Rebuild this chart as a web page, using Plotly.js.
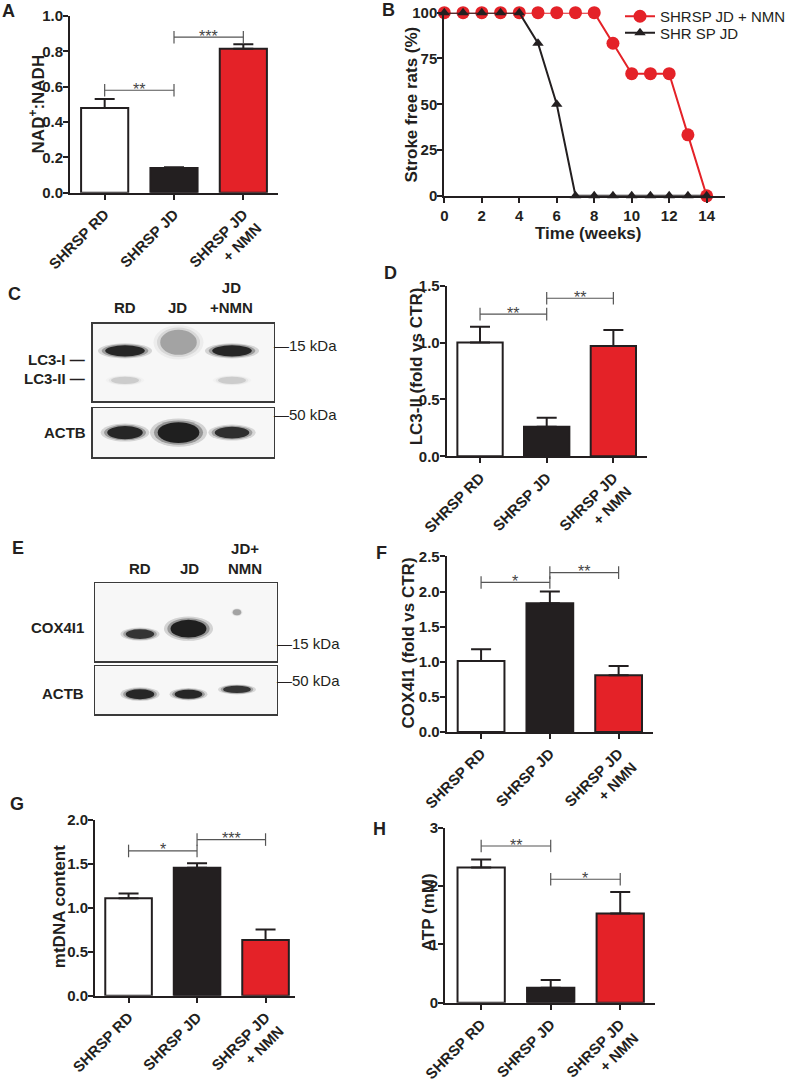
<!DOCTYPE html>
<html>
<head>
<meta charset="utf-8">
<script src="https://cdn.plot.ly/plotly-3.0.1.min.js"></script>
<style>
body { margin: 0; background: #fff; }
#plot { width: 800px; height: 1086px; }
</style>
</head>
<body>
<div id="plot"></div>
<script>
// groups shared by every bar panel
var groups = ['SHRSP RD', 'SHRSP JD', 'SHRSP JD<br>+ NMN'];
var groupColors = ['#ffffff', '#231f20', '#e42228'];

// A - NAD+:NADH
var nadRatio = [0.48, 0.14, 0.815];
var nadSem = [0.05, 0.005, 0.025];
var nadSig = [[0, 1, 0.58, '**'], [1, 2, 0.88, '***']];

// B - stroke free survival
var weeks = [0, 1, 2, 3, 4, 5, 6, 7, 8, 9, 10, 11, 12, 13, 14];
var strokeFreeNmn = [100, 100, 100, 100, 100, 100, 100, 100, 100, 83.3, 66.7, 66.7, 66.7, 33.3, 0];
var strokeFreeJd = [100, 100, 100, 100, 100, 83.3, 50, 0, 0, 0, 0, 0, 0, 0, 0];

// C - LC3 blot (relative band darkness per lane RD, JD, JD+NMN)
var blotLanesC = ['RD', 'JD', 'JD<br>+NMN'];
var lc3IBand = [0.95, 0.3, 0.95];
var lc3IIBand = [0.14, 0, 0.14];
var actbBandC = [0.95, 1, 0.9];

// D - LC3-II
var lc3Fold = [1.0, 0.26, 0.97];
var lc3Sem = [0.14, 0.08, 0.14];
var lc3Sig = [[0, 1, 1.25, '**'], [1, 2, 1.39, '**']];

// E - COX4I1 blot
var blotLanesE = ['RD', 'JD', 'JD+<br>NMN'];
var coxBand = [0.85, 1, 0.3];
var actbBandE = [0.95, 0.95, 0.85];

// F - COX4I1
var coxFold = [1.01, 1.835, 0.81];
var coxSem = [0.17, 0.165, 0.13];
var coxSig = [[0, 1, 2.13, '*'], [1, 2, 2.27, '**']];

// G - mtDNA
var mtdna = [1.11, 1.46, 0.635];
var mtdnaSem = [0.055, 0.05, 0.12];
var mtdnaSig = [[0, 1, 1.65, '*'], [1, 2, 1.78, '***']];

// H - ATP
var atp = [2.32, 0.26, 1.53];
var atpSem = [0.14, 0.13, 0.37];
var atpSig = [[0, 1, 2.69, '**'], [1, 2, 2.12, '*']];

var FONT = 'Liberation Sans, Arial, Helvetica, sans-serif';
var INK = '#231f20';
var W = 800, H = 1086;

function px(x) { return x / W; }
function py(y) { return 1 - y / H; }

var traces = [];
var shapes = [];
var annotations = [];

function barTrace(n, vals, sem) {
    return {
        type: 'bar', x: [0, 1, 2], y: vals,
        xaxis: 'x' + n, yaxis: 'y' + n,
        width: 0.68,
        marker: {color: groupColors, line: {color: INK, width: 2}},
        error_y: {type: 'data', symmetric: false, array: sem, arrayminus: [0, 0, 0],
                  color: INK, thickness: 2, width: 10},
        showlegend: false, hoverinfo: 'skip', cliponaxis: false
    };
}

function addSig(n, sig) {
    sig.forEach(function(s) {
        traces.push({
            type: 'scatter', mode: 'lines+markers', x: [s[0], s[1]], y: [s[2], s[2]],
            xaxis: 'x' + n, yaxis: 'y' + n,
            line: {color: '#555', width: 1.2},
            marker: {symbol: 'line-ns', size: 9, line: {color: '#555', width: 1.2}},
            showlegend: false, hoverinfo: 'skip', cliponaxis: false
        });
        annotations.push({
            xref: 'x' + n, yref: 'y' + n, x: (s[0] + s[1]) / 2, y: s[2],
            text: s[3], showarrow: false, xanchor: 'center', yanchor: 'middle', yshift: 1,
            font: {family: FONT, size: 16, color: '#444'}
        });
    });
}

function barX(left, right, range) {
    return {
        domain: [px(left), px(right)], range: range,
        tickvals: [0, 1, 2], ticktext: groups, tickangle: -45,
        ticks: 'outside', ticklen: 5, tickwidth: 2, tickcolor: INK,
        showline: true, linewidth: 2, linecolor: INK,
        showgrid: false, zeroline: false, fixedrange: true,
        tickfont: {family: FONT, size: 15, weight: 'bold', color: INK}
    };
}

function barY(bottom, top, range, dtick, fmt) {
    return {
        domain: [py(bottom), py(top)], range: range, dtick: dtick, tick0: 0,
        tickformat: fmt, ticks: 'outside', ticklen: 5, tickwidth: 2, tickcolor: INK,
        ticklabelstandoff: -3,
        showline: true, linewidth: 2, linecolor: INK,
        showgrid: false, zeroline: false, fixedrange: true,
        tickfont: {family: FONT, size: 15, weight: 'bold', color: INK}
    };
}

function blotAxis(domain, range) {
    return {
        domain: domain, range: range, showline: true, mirror: true,
        linewidth: 1.3, linecolor: '#3a3a3a', ticks: '', showticklabels: false,
        showgrid: false, zeroline: false, fixedrange: true
    };
}

// soft edged band built from stacked ellipses
function addBand(n, lane, cy, w, h, dark) {
    if (dark <= 0) return;
    var layers = [[1.3, 0.15], [1.12, 0.3], [0.95, 0.85]];
    layers.forEach(function(l) {
        shapes.push({
            type: 'circle', xref: 'x' + n, yref: 'y' + n,
            x0: lane - w * l[0] / 2, x1: lane + w * l[0] / 2,
            y0: cy - h * l[0] / 2, y1: cy + h * l[0] / 2,
            fillcolor: '#0a0a0a', opacity: dark * l[1], line: {width: 0}
        });
    });
}

function text(x, y, t, size, opts) {
    var a = {
        xref: 'paper', yref: 'paper', x: px(x), y: py(y), text: t, showarrow: false,
        xanchor: 'center', yanchor: 'middle',
        font: {family: FONT, size: size, color: INK, weight: 'bold'}
    };
    for (var k in opts) a[k] = opts[k];
    return a;
}

function plain(x, y, t) {
    return text(x, y, t, 15, {xanchor: 'left', font: {family: FONT, size: 15, color: INK}});
}

function yTitle(x, y, t) {
    annotations.push(text(x, y, t, 17, {textangle: -90}));
}

// ---------- A ----------
traces.push(barTrace('', nadRatio, nadSem));
addSig('', nadSig);

// ---------- B ----------
traces.push({
    type: 'scatter', mode: 'lines+markers', x: weeks, y: strokeFreeNmn,
    xaxis: 'x2', yaxis: 'y2', name: 'SHRSP JD + NMN', legend: 'legend',
    line: {color: '#e42228', width: 2},
    marker: {symbol: 'circle', size: 13, color: '#e42228'},
    cliponaxis: false
});
traces.push({
    type: 'scatter', mode: 'lines+markers', x: weeks, y: strokeFreeJd,
    xaxis: 'x2', yaxis: 'y2', name: 'SHR SP JD', legend: 'legend2',
    line: {color: INK, width: 2},
    marker: {symbol: 'triangle-up', size: 10, color: INK},
    cliponaxis: false
});

// ---------- C blot ----------
var laneW = [1, 2, 3];
lc3IBand.forEach(function(d, i) {
    if (i === 1) addBand(3, laneW[i], 0.76, 0.72, 0.34, d);
    else addBand(3, laneW[i], 0.65, 0.78, 0.15, d);
});
lc3IIBand.forEach(function(d, i) { addBand(3, laneW[i], 0.27, 0.55, 0.1, d); });
actbBandC.forEach(function(d, i) {
    var w = [0.7, 0.82, 0.68][i], h = [0.28, 0.44, 0.25][i];
    addBand(4, laneW[i], 0.5, w, h, d);
});

// ---------- D ----------
traces.push(barTrace(5, lc3Fold, lc3Sem));
addSig(5, lc3Sig);

// ---------- E blot ----------
coxBand.forEach(function(d, i) {
    if (i === 2) addBand(6, laneW[i], 0.63, 0.18, 0.08, d);
    else addBand(6, laneW[i], [0.35, 0.42][i], [0.62, 0.78][i], [0.13, 0.24][i], d);
});
actbBandE.forEach(function(d, i) {
    addBand(7, laneW[i], [0.42, 0.42, 0.52][i], [0.62, 0.6, 0.6][i], [0.22, 0.2, 0.16][i], d);
});

// ---------- F, G, H ----------
traces.push(barTrace(8, coxFold, coxSem));
addSig(8, coxSig);
traces.push(barTrace(9, mtdna, mtdnaSem));
addSig(9, mtdnaSig);
traces.push(barTrace(10, atp, atpSem));
addSig(10, atpSig);

// blot backgrounds
[3, 4, 6, 7].forEach(function(n) {
    shapes.unshift({type: 'rect', xref: 'x' + n + ' domain', yref: 'y' + n + ' domain',
        x0: 0, x1: 1, y0: 0, y1: 1, fillcolor: '#f7f7f7', line: {width: 0}, layer: 'below'});
});

// titles
yTitle(37, 103.5, 'NAD<sup>+</sup>:NADH');
yTitle(411.7, 104, 'Stroke free rats (%)');
annotations.push(text(588, 233, 'Time (weeks)', 17, {}));
yTitle(416.7, 366, 'LC3-II (fold vs CTR)');
yTitle(408, 643, 'COX4I1 (fold vs CTR)');
yTitle(59, 907, 'mtDNA content');
yTitle(428, 912, 'ATP (mM)');

// panel letters
[['A', 8, 10], ['B', 388, 9], ['C', 14, 293], ['D', 390, 272],
 ['E', 18, 548], ['F', 381, 553], ['G', 17, 804], ['H', 379, 829]].forEach(function(l) {
    annotations.push(text(l[1], l[2], l[0], 18, {}));
});

// blot labels
var lanePxC = [125, 177, 232];
blotLanesC.forEach(function(t, i) {
    annotations.push(text(lanePxC[i], 317, t, 15, {yanchor: 'bottom'}));
});
annotations.push(text(87, 359, 'LC3-I —', 15, {xanchor: 'right'}));
annotations.push(text(87, 378, 'LC3-II —', 15, {xanchor: 'right'}));
annotations.push(text(64.5, 432, 'ACTB', 15, {}));
annotations.push(plain(272, 345, '—15 kDa'));
annotations.push(plain(272, 414, '—50 kDa'));

var lanePxE = [140, 189, 245];
blotLanesE.forEach(function(t, i) {
    annotations.push(text(lanePxE[i], 579, t, 15, {yanchor: 'bottom'}));
});
annotations.push(text(57.5, 627, 'COX4I1', 15, {}));
annotations.push(text(63, 693, 'ACTB', 15, {}));
annotations.push(plain(275, 643, '—15 kDa'));
annotations.push(plain(275, 680, '—50 kDa'));

var layout = {
    width: W, height: H,
    margin: {l: 0, r: 0, t: 0, b: 0},
    paper_bgcolor: '#fff', plot_bgcolor: 'rgba(0,0,0,0)',
    font: {family: FONT, color: INK},
    bargap: 0,
    showlegend: true,
    legend: {x: px(620), y: py(16), xanchor: 'left', yanchor: 'middle',
             bgcolor: 'rgba(0,0,0,0)', font: {family: FONT, size: 15, color: INK},
             itemwidth: 30},
    legend2: {x: px(620), y: py(33), xanchor: 'left', yanchor: 'middle',
             bgcolor: 'rgba(0,0,0,0)', font: {family: FONT, size: 15, color: INK},
             itemwidth: 30},
    xaxis: barX(70, 278, [-0.5, 2.5]),
    yaxis: barY(192, 15, [0, 1.0], 0.2, '.1f'),
    xaxis2: {
        domain: [px(444.3), px(725.4)], range: [0, 15], tickvals: [0, 2, 4, 6, 8, 10, 12, 14],
        ticks: 'outside', ticklen: 5, tickwidth: 2, tickcolor: INK,
        showline: true, linewidth: 2, linecolor: INK, showgrid: false, zeroline: false,
        tickfont: {family: FONT, size: 15, weight: 'bold', color: INK}, fixedrange: true
    },
    yaxis2: barY(195, 11.7, [0, 100], 25, 'd'),
    xaxis3: blotAxis([px(92.7), px(274)], [0.396, 3.785]),
    yaxis3: blotAxis([py(400.7), py(323)], [0, 1]),
    xaxis4: blotAxis([px(92.7), px(274)], [0.396, 3.785]),
    yaxis4: blotAxis([py(456.7), py(407.3)], [0, 1]),
    xaxis5: barX(446.7, 646.7, [-0.5, 2.5]),
    yaxis5: barY(455.7, 285, [0, 1.5], 0.5, '.1f'),
    xaxis6: blotAxis([px(95), px(276.7)], [0.072, 3.819]),
    yaxis6: blotAxis([py(661), py(583)], [0, 1]),
    xaxis7: blotAxis([px(95), px(276.7)], [0.072, 3.819]),
    yaxis7: blotAxis([py(714), py(666)], [0, 1]),
    xaxis8: barX(446.7, 653, [-0.5, 2.5]),
    yaxis8: barY(731.7, 556, [0, 2.5], 0.5, '.1f'),
    xaxis9: barX(95, 295, [-0.49, 2.43]),
    yaxis9: barY(995.7, 820, [0, 2.0], 0.5, '.1f'),
    xaxis10: barX(445, 655, [-0.52, 2.5]),
    yaxis10: barY(1002.7, 827.7, [0, 3], 1, 'd'),
    shapes: shapes,
    annotations: annotations
};

// tie each x axis to its y axis
var ids = ['', 2, 3, 4, 5, 6, 7, 8, 9, 10];
ids.forEach(function(n) {
    layout['xaxis' + n].anchor = 'y' + n;
    layout['yaxis' + n].anchor = 'x' + n;
});

Plotly.newPlot('plot', traces, layout, {staticPlot: true});
</script>
</body>
</html>
